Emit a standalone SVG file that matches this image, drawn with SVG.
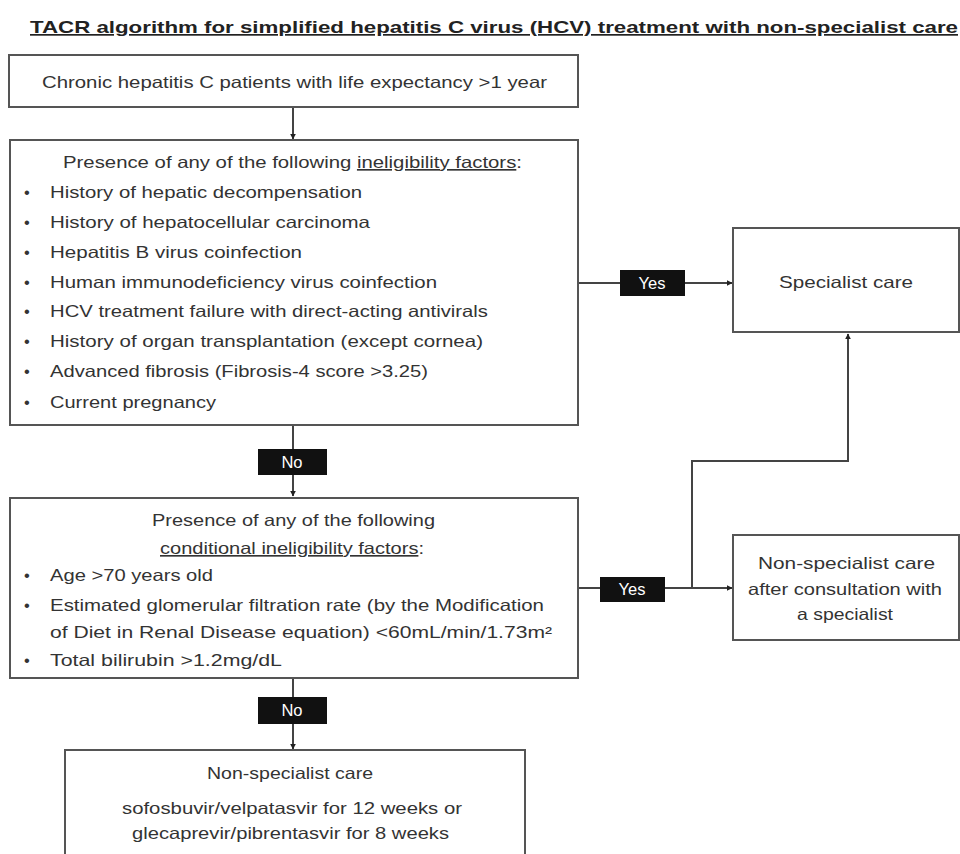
<svg xmlns="http://www.w3.org/2000/svg" width="960" height="854" viewBox="0 0 960 854">
<defs>
<marker id="arr" viewBox="0 0 10 10" refX="9" refY="5" markerWidth="6" markerHeight="6" orient="auto" markerUnits="userSpaceOnUse">
<path d="M0,0 L10,5 L0,10 z" fill="#222"/>
</marker>
<style>
.box{fill:#fff;stroke:#555;stroke-width:2}
.t{font-family:"Liberation Sans",Arial,sans-serif;font-size:16.5px;fill:#333}
.c{text-anchor:middle}
.lbl{fill:#111}
.lt{font-family:"Liberation Sans",Arial,sans-serif;font-size:16.5px;fill:#fff;text-anchor:middle}
.ln{fill:none;stroke:#444;stroke-width:2}
.u{text-decoration:underline}
</style>
</defs>
<rect width="960" height="854" fill="#fff"/>
<text x="30" y="33" font-family="'Liberation Sans',Arial,sans-serif" font-size="17" font-weight="bold" fill="#222" text-decoration="underline" textLength="928" lengthAdjust="spacingAndGlyphs">TACR algorithm for simplified hepatitis C virus (HCV) treatment with non-specialist care</text>

<g id="connectors">
<line class="ln" x1="293" y1="107" x2="293" y2="139" marker-end="url(#arr)"/>
<line class="ln" x1="578" y1="283" x2="732" y2="283" marker-end="url(#arr)"/>
<line class="ln" x1="293" y1="425" x2="293" y2="496" marker-end="url(#arr)"/>
<line class="ln" x1="578" y1="588" x2="732" y2="588" marker-end="url(#arr)"/>
<polyline class="ln" points="692,588 692,461 848,461 848,334" marker-end="url(#arr)"/>
<line class="ln" x1="293" y1="678" x2="293" y2="749" marker-end="url(#arr)"/>
<g id="yes1"><rect class="lbl" x="620" y="270" width="65" height="26"/><text class="lt" x="652" y="289">Yes</text></g>
<g id="no1"><rect class="lbl" x="258" y="449" width="69" height="26"/><text class="lt" x="292" y="468">No</text></g>
<g id="yes2"><rect class="lbl" x="600" y="577" width="65" height="25"/><text class="lt" x="632" y="595">Yes</text></g>
<g id="no2"><rect class="lbl" x="258" y="697" width="69" height="27"/><text class="lt" x="292" y="716">No</text></g>
</g>

<g id="start">
<rect class="box" x="9" y="55" width="569" height="52"/>
<text class="t" x="42" y="88" textLength="505" lengthAdjust="spacingAndGlyphs">Chronic hepatitis C patients with life expectancy &gt;1 year</text>
</g>

<g id="ineligibility">
<rect class="box" x="10" y="140" width="568" height="285"/>
<text class="t" x="63" y="168" textLength="459" lengthAdjust="spacingAndGlyphs">Presence of any of the following <tspan class="u">ineligibility factors</tspan>:</text>
<g class="t">
<text x="24" y="198">•</text><text x="50" y="198" textLength="312" lengthAdjust="spacingAndGlyphs">History of hepatic decompensation</text>
<text x="24" y="228">•</text><text x="50" y="228" textLength="320" lengthAdjust="spacingAndGlyphs">History of hepatocellular carcinoma</text>
<text x="24" y="258">•</text><text x="50" y="258" textLength="252" lengthAdjust="spacingAndGlyphs">Hepatitis B virus coinfection</text>
<text x="24" y="288">•</text><text x="50" y="288" textLength="387" lengthAdjust="spacingAndGlyphs">Human immunodeficiency virus coinfection</text>
<text x="24" y="317">•</text><text x="50" y="317" textLength="438" lengthAdjust="spacingAndGlyphs">HCV treatment failure with direct-acting antivirals</text>
<text x="24" y="347">•</text><text x="50" y="347" textLength="433" lengthAdjust="spacingAndGlyphs">History of organ transplantation (except cornea)</text>
<text x="24" y="377">•</text><text x="50" y="377" textLength="378" lengthAdjust="spacingAndGlyphs">Advanced fibrosis (Fibrosis-4 score &gt;3.25)</text>
<text x="24" y="408">•</text><text x="50" y="408" textLength="166" lengthAdjust="spacingAndGlyphs">Current pregnancy</text>
</g>
</g>

<g id="specialist">
<rect class="box" x="733" y="228" width="226" height="104"/>
<text class="t" x="779" y="288" textLength="134" lengthAdjust="spacingAndGlyphs">Specialist care</text>
</g>

<g id="conditional">
<rect class="box" x="10" y="498" width="568" height="180"/>
<text class="t" x="152" y="526" textLength="283" lengthAdjust="spacingAndGlyphs">Presence of any of the following</text>
<text class="t" x="160" y="554" textLength="264" lengthAdjust="spacingAndGlyphs"><tspan class="u">conditional ineligibility factors</tspan>:</text>
<g class="t">
<text x="24" y="581">•</text><text x="50" y="581" textLength="163" lengthAdjust="spacingAndGlyphs">Age &gt;70 years old</text>
<text x="24" y="611">•</text><text x="50" y="611" textLength="494" lengthAdjust="spacingAndGlyphs">Estimated glomerular filtration rate (by the Modification</text>
<text x="50" y="638" textLength="502" lengthAdjust="spacingAndGlyphs">of Diet in Renal Disease equation) &lt;60mL/min/1.73m²</text>
<text x="24" y="666">•</text><text x="50" y="666" textLength="232" lengthAdjust="spacingAndGlyphs">Total bilirubin &gt;1.2mg/dL</text>
</g>
</g>

<g id="consult">
<rect class="box" x="733" y="535" width="226" height="105"/>
<text class="t" x="758" y="569" textLength="177" lengthAdjust="spacingAndGlyphs">Non-specialist care</text>
<text class="t" x="748" y="595" textLength="194" lengthAdjust="spacingAndGlyphs">after consultation with</text>
<text class="t" x="797" y="620" textLength="96" lengthAdjust="spacingAndGlyphs">a specialist</text>
</g>

<g id="nonspecialist">
<rect class="box" x="65" y="750" width="460" height="110"/>
<text class="t" x="207" y="779" textLength="166" lengthAdjust="spacingAndGlyphs">Non-specialist care</text>
<text class="t" x="122" y="814" textLength="340" lengthAdjust="spacingAndGlyphs">sofosbuvir/velpatasvir for 12 weeks or</text>
<text class="t" x="132" y="839" textLength="317" lengthAdjust="spacingAndGlyphs">glecaprevir/pibrentasvir for 8 weeks</text>
</g>
</svg>
